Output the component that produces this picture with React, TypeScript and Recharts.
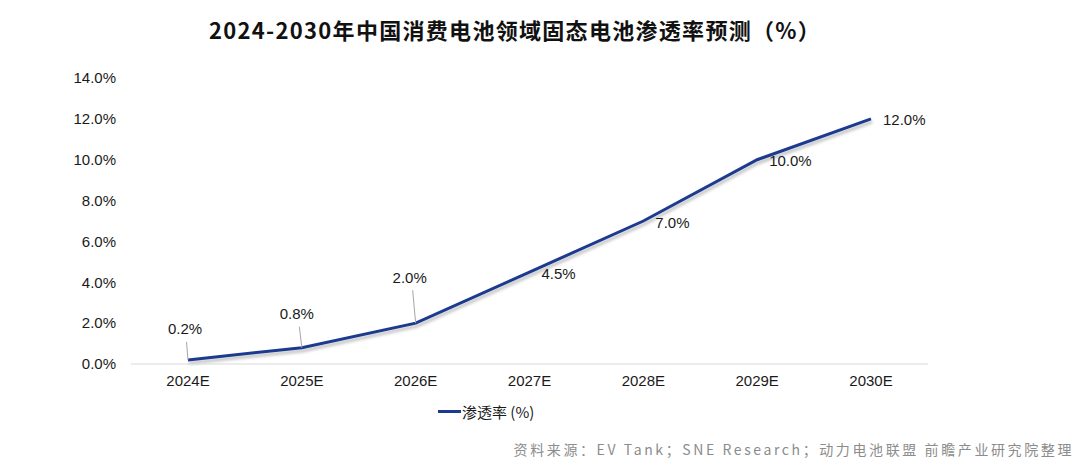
import { LineChart, Line, XAxis, YAxis } from "recharts";

const years = ["2024E", "2025E", "2026E", "2027E", "2028E", "2029E", "2030E"];
const penetration = [0.2, 0.8, 2.0, 4.5, 7.0, 10.0, 12.0];
const yTicks = [0, 2, 4, 6, 8, 10, 12, 14];

const LINE_COLOR = "#1c3a8f";
const FONT = "'Liberation Sans', Arial, sans-serif";
const CJK = "'Noto Sans CJK SC', 'Liberation Sans', sans-serif";

const data = years.map((year, i) => ({ year, value: penetration[i] }));

// first three labels sit above the point with a thin leader line, the rest to the right
function PointLabel(props: any) {
  const { x, y, value, index } = props;
  const text = `${Number(value).toFixed(1)}%`;
  if (index < 3) {
    const lift = [31, 34, 46][index];
    const shift = [-3, -5, -6][index];
    return (
      <g>
        <line
          x1={x}
          y1={y}
          x2={x + shift / 2}
          y2={y - lift + 13}
          stroke="#a6a6a6"
          strokeWidth={1}
        />
        <text
          x={x + shift}
          y={y - lift}
          textAnchor="middle"
          dominantBaseline="central"
          fontSize={15}
          fontFamily={FONT}
          fill="#1a1a1a"
        >
          {text}
        </text>
      </g>
    );
  }
  return (
    <text
      x={x + 12}
      y={y + 1}
      textAnchor="start"
      dominantBaseline="central"
      fontSize={15}
      fontFamily={FONT}
      fill="#1a1a1a"
    >
      {text}
    </text>
  );
}

export default function App() {
  return (
    <div style={{ position: "absolute", left: 0, top: 0, width: 1080, height: 473, background: "#fff" }}>
      <div
        style={{
          position: "absolute",
          left: 0,
          top: 13,
          width: 1030,
          textAlign: "center",
          fontFamily: CJK,
          fontWeight: 700,
          fontSize: 22,
          letterSpacing: 1.3,
          color: "#111",
        }}
      >
        2024-2030年中国消费电池领域固态电池渗透率预测（%）
      </div>
      <LineChart
        width={1080}
        height={473}
        data={data}
        margin={{ top: 78, right: 152, bottom: 79, left: 0 }}
      >
        <defs>
          <filter id="lineShadow" x="-5%" y="-20%" width="110%" height="140%">
            <feDropShadow dx="1" dy="3" stdDeviation="1.5" floodColor="#000" floodOpacity="0.25" />
          </filter>
        </defs>
        <XAxis
          dataKey="year"
          height={30}
          padding={{ left: 57, right: 57 }}
          tick={{ fontSize: 15, fill: "#1a1a1a", fontFamily: FONT }}
          tickLine={false}
          axisLine={{ stroke: "#d9d9d9", strokeWidth: 1 }}
          tickMargin={5}
        />
        <YAxis
          domain={[0, 14]}
          ticks={yTicks}
          width={131}
          tickFormatter={(v: number) => `${v.toFixed(1)}%`}
          tick={{ fontSize: 15, fill: "#1a1a1a", fontFamily: FONT }}
          tickLine={false}
          axisLine={false}
          tickMargin={9}
        />
        <Line
          type="linear"
          dataKey="value"
          name="渗透率（%）"
          stroke={LINE_COLOR}
          strokeWidth={3}
          dot={false}
          filter="url(#lineShadow)"
          label={<PointLabel />}
          isAnimationActive={false}
        />
      </LineChart>
      <div
        style={{
          position: "absolute",
          left: 438,
          top: 401,
          display: "flex",
          alignItems: "center",
          fontFamily: CJK,
          fontSize: 15,
          color: "#1a1a1a",
        }}
      >
        <span style={{ display: "inline-block", width: 23, height: 3, background: LINE_COLOR, marginRight: 1 }} />
        <span>渗透率 (%)</span>
      </div>
      <div
        style={{
          position: "absolute",
          right: 6,
          top: 439,
          fontFamily: CJK,
          fontSize: 14,
          letterSpacing: 2.6,
          color: "#8c8c8c",
        }}
      >
        资料来源：EV Tank；SNE Research；动力电池联盟 前瞻产业研究院整理
      </div>
    </div>
  );
}
